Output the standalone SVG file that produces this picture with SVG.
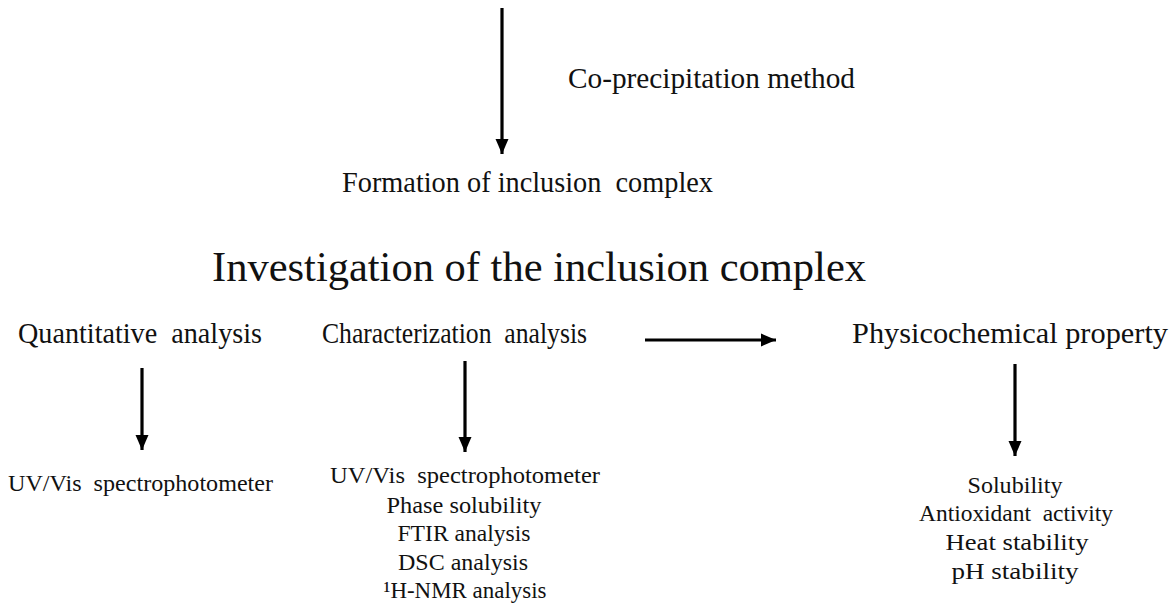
<svg xmlns="http://www.w3.org/2000/svg" width="1176" height="614" viewBox="0 0 1176 614">
  <style>
    text { font-family: "Liberation Serif", "Times New Roman", Times, serif; fill: #111; white-space: pre; }
    .lbl { font-size: 28.5px; }
    .head { font-size: 42px; }
    .item { font-size: 23px; }
    .mid { text-anchor: middle; }
    .conn { stroke: #000; stroke-width: 3.2; fill: none; }
  </style>
  <defs>
    <marker id="arrow" markerUnits="userSpaceOnUse" markerWidth="16" markerHeight="14" refX="15" refY="7" orient="auto">
      <path d="M0,0.5 L15,7 L0,13.5 z" fill="#000"/>
    </marker>
  </defs>

  <rect width="1176" height="614" fill="#fff"/>

  <!-- connectors -->
  <g id="connectors">
    <line class="conn" x1="502" y1="8" x2="502" y2="154" marker-end="url(#arrow)"/>
    <line class="conn" x1="645" y1="340" x2="776" y2="340" marker-end="url(#arrow)"/>
    <line class="conn" x1="142" y1="368" x2="142" y2="450" marker-end="url(#arrow)"/>
    <line class="conn" x1="465" y1="361" x2="465" y2="452" marker-end="url(#arrow)"/>
    <line class="conn" x1="1015" y1="364" x2="1015" y2="456" marker-end="url(#arrow)"/>
  </g>

  <!-- edge label on the first step -->
  <g id="method-label">
    <text class="lbl" x="568" y="88" textLength="287" lengthAdjust="spacingAndGlyphs">Co-precipitation method</text>
  </g>

  <g id="formation">
    <text class="lbl" x="342" y="192" textLength="371" lengthAdjust="spacingAndGlyphs">Formation of inclusion  complex</text>
  </g>

  <g id="investigation">
    <text class="head" x="212" y="281" textLength="654" lengthAdjust="spacingAndGlyphs">Investigation of the inclusion complex</text>
  </g>

  <g id="quantitative">
    <text class="lbl" x="18" y="343" textLength="244" lengthAdjust="spacingAndGlyphs">Quantitative  analysis</text>
  </g>

  <g id="characterization">
    <text class="lbl" x="322" y="343" textLength="265" lengthAdjust="spacingAndGlyphs">Characterization  analysis</text>
  </g>

  <g id="physicochemical">
    <text class="lbl" x="852" y="343" textLength="316" lengthAdjust="spacingAndGlyphs">Physicochemical property</text>
  </g>

  <g id="quantitative-methods">
    <text class="item" x="8" y="491" textLength="265" lengthAdjust="spacingAndGlyphs">UV/Vis  spectrophotometer</text>
  </g>

  <g id="characterization-methods">
    <text class="item mid" x="465" y="483" textLength="270" lengthAdjust="spacingAndGlyphs">UV/Vis  spectrophotometer</text>
    <text class="item mid" x="464" y="513" textLength="155" lengthAdjust="spacingAndGlyphs">Phase solubility</text>
    <text class="item mid" x="464" y="541" textLength="133" lengthAdjust="spacingAndGlyphs">FTIR analysis</text>
    <text class="item mid" x="463" y="570" textLength="130" lengthAdjust="spacingAndGlyphs">DSC analysis</text>
    <text class="item mid" x="465" y="598" textLength="163" lengthAdjust="spacingAndGlyphs">¹H-NMR analysis</text>
  </g>

  <g id="physicochemical-properties">
    <text class="item mid" x="1015" y="493" textLength="95" lengthAdjust="spacingAndGlyphs">Solubility</text>
    <text class="item mid" x="1016" y="521" textLength="194" lengthAdjust="spacingAndGlyphs">Antioxidant  activity</text>
    <text class="item mid" x="1017" y="550" textLength="143" lengthAdjust="spacingAndGlyphs">Heat stability</text>
    <text class="item mid" x="1015" y="579" textLength="127" lengthAdjust="spacingAndGlyphs">pH stability</text>
  </g>
</svg>
